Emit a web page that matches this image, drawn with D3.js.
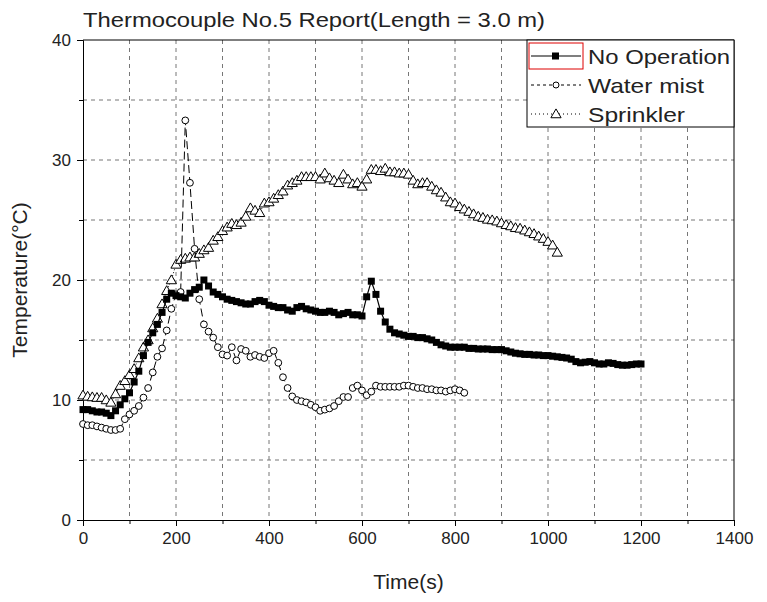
<!DOCTYPE html>
<html><head><meta charset="utf-8">
<script src="https://cdn.jsdelivr.net/npm/d3@7"></script>
<style>body{margin:0;background:#fff}svg{display:block}text{font-family:Arial,"Liberation Sans",sans-serif;fill:#222}</style>
</head><body><svg id="c" width="767" height="602"></svg>
<script>
const title = "Thermocouple No.5 Report(Length = 3.0 m)";
const xLabel = "Time(s)";
const yLabel = "Temperature(°C)";
const xTicks = [0,200,400,600,800,1000,1200,1400];
const yTicks = [0,10,20,30,40];
const seriesNames = ["No Operation","Water mist","Sprinkler"];

const noOpTime = d3.range(0,1201,10);
const noOpTemp = [9.2,9.2,9.1,9.0,9.0,8.9,8.7,9.1,9.6,10.1,10.6,11.5,12.4,13.7,14.8,15.6,16.3,17.3,18.4,18.9,
18.7,18.6,18.5,18.9,19.2,19.4,20.0,19.5,19.0,18.8,18.6,18.4,18.3,18.2,18.1,18.0,18.0,18.2,18.3,18.2,
17.9,17.8,17.7,17.7,17.5,17.4,17.7,17.8,17.6,17.5,17.4,17.3,17.3,17.4,17.3,17.1,17.2,17.3,17.1,17.1,
17.0,18.6,19.9,18.8,17.4,16.5,15.9,15.6,15.5,15.4,15.3,15.3,15.2,15.2,15.1,15.0,14.8,14.6,14.5,14.4,
14.4,14.4,14.4,14.3,14.3,14.25,14.25,14.25,14.2,14.2,14.2,14.1,14.0,13.9,13.85,13.8,13.8,13.75,13.75,13.7,
13.7,13.65,13.6,13.55,13.5,13.4,13.2,13.1,13.15,13.2,13.1,13.0,13.0,13.1,13.05,12.95,12.9,12.9,12.95,13.0,13.0];

const mistTime = d3.range(0,821,10);
const mistTemp = [8.0,7.9,7.9,7.8,7.7,7.6,7.5,7.5,7.6,8.4,8.8,9.1,9.5,10.2,11.0,12.3,13.6,14.3,15.8,17.6,
18.8,19.0,33.3,28.1,22.6,18.4,16.3,15.7,15.2,14.4,13.8,13.7,14.4,13.3,14.25,14.1,13.6,13.75,13.6,13.5,
13.9,14.1,13.1,11.9,11.0,10.3,10.0,9.9,9.8,9.6,9.4,9.1,9.2,9.3,9.5,9.9,10.25,10.25,11.0,11.2,
10.8,10.4,10.7,11.2,11.1,11.1,11.1,11.1,11.1,11.2,11.2,11.1,11.0,11.0,10.9,10.9,10.8,10.8,10.7,10.8,
10.9,10.8,10.6];

const sprTime = d3.range(0,1021,10);
const sprTemp = [10.4,10.3,10.25,10.2,10.2,10.0,9.8,10.5,11.2,11.6,12.1,12.6,13.5,14.4,15.0,16.0,16.8,18.0,19.1,20.0,
21.3,21.7,21.8,21.9,21.9,22.2,22.5,22.7,23.3,23.6,24.1,24.4,24.7,24.6,24.8,25.3,26.0,25.8,25.6,26.4,
26.5,26.8,27.1,27.4,27.9,28.1,28.3,28.6,28.6,28.6,28.6,28.4,28.9,28.5,28.3,28.1,28.8,28.4,28.0,28.1,
27.8,28.4,29.2,29.2,29.1,29.3,29.0,29.0,28.9,28.9,28.8,28.3,28.0,28.1,28.1,27.8,27.5,27.3,26.9,26.5,
26.4,26.1,25.9,25.7,25.5,25.3,25.2,25.05,25.0,24.9,24.75,24.6,24.5,24.35,24.3,24.15,24.0,23.85,23.65,23.45,
23.2,22.9,22.3];

const svg = d3.select("#c");
const L=83, R=734, T=40, B=520;
const x = d3.scaleLinear().domain([0,1400]).range([L,R]);
const y = d3.scaleLinear().domain([0,40]).range([B,T]);

// grid
const g = svg.append("g");
g.selectAll("line.gx").data(d3.range(100,1400,100)).join("line")
 .attr("x1",d=>x(d)).attr("x2",d=>x(d)).attr("y1",T).attr("y2",B)
 .attr("stroke","#777").attr("stroke-width",1).attr("stroke-dasharray","4,4");
g.selectAll("line.gy").data(d3.range(5,40,5)).join("line")
 .attr("y1",d=>y(d)).attr("y2",d=>y(d)).attr("x1",L).attr("x2",R)
 .attr("stroke","#777").attr("stroke-width",1).attr("stroke-dasharray","4,4");

// axes
const xAxis = d3.axisBottom(x).tickValues(xTicks).tickSize(6).tickPadding(6).tickFormat(d3.format("d"));
const xMinor = d3.axisBottom(x).tickValues(d3.range(100,1400,200)).tickSize(4).tickFormat("");
const yAxis = d3.axisLeft(y).tickValues(yTicks).tickSize(6).tickPadding(6);
const yMinor = d3.axisLeft(y).tickValues(d3.range(5,40,10)).tickSize(4).tickFormat("");
function style(sel){sel.select(".domain").attr("stroke","#000");sel.selectAll("line").attr("stroke","#000");
 sel.selectAll("text").attr("font-size",17).attr("fill","#222").style("font-family","Arial, 'Liberation Sans', sans-serif");}
svg.append("g").attr("transform",`translate(0,${B})`).call(xAxis).call(style);
svg.append("g").attr("transform",`translate(0,${B})`).call(xMinor).call(style).select(".domain").remove();
svg.append("g").attr("transform",`translate(${L},0)`).call(yAxis).call(style);
svg.append("g").attr("transform",`translate(${L},0)`).call(yMinor).call(style).select(".domain").remove();
// frame
svg.append("line").attr("x1",L).attr("x2",R).attr("y1",T).attr("y2",T).attr("stroke","#000");
svg.append("line").attr("x1",R).attr("x2",R).attr("y1",T).attr("y2",B).attr("stroke","#000");

// series
const line = d3.line().x(d=>x(d[0])).y(d=>y(d[1]));
const noOp = noOpTime.map((t,i)=>[t,noOpTemp[i]]);
const mist = mistTime.map((t,i)=>[t,mistTemp[i]]);
const spr = sprTime.map((t,i)=>[t,sprTemp[i]]);
const tri = d3.symbol().type(d3.symbolTriangle).size(45);

svg.append("path").datum(spr).attr("d",line).attr("fill","none").attr("stroke","#000").attr("stroke-width",1).attr("stroke-dasharray","1,2");
svg.append("g").selectAll("path").data(spr).join("path").attr("d",tri)
 .attr("transform",d=>`translate(${x(d[0])},${y(d[1])+0.8})`).attr("fill","#fff").attr("stroke","#000").attr("stroke-width",1);

svg.append("path").datum(mist).attr("d",line).attr("fill","none").attr("stroke","#000").attr("stroke-width",1).attr("stroke-dasharray","8,4");
svg.append("g").selectAll("circle").data(mist).join("circle")
 .attr("cx",d=>x(d[0])).attr("cy",d=>y(d[1])).attr("r",3.4).attr("fill","#fff").attr("stroke","#000").attr("stroke-width",1);

svg.append("path").datum(noOp).attr("d",line).attr("fill","none").attr("stroke","#000").attr("stroke-width",1.2);
svg.append("g").selectAll("rect").data(noOp).join("rect")
 .attr("x",d=>x(d[0])-3.5).attr("y",d=>y(d[1])-3.5).attr("width",7).attr("height",7).attr("fill","#000");

// legend
const lg = svg.append("g");
lg.append("rect").attr("x",527).attr("y",40).attr("width",207).attr("height",87).attr("fill","#fff").attr("stroke","#000");
lg.append("rect").attr("x",529).attr("y",43).attr("width",54).attr("height",26).attr("fill","none").attr("stroke","#d00").attr("stroke-width",1);
const ly = [56,85,114];
lg.append("line").attr("x1",531).attr("x2",581).attr("y1",ly[0]).attr("y2",ly[0]).attr("stroke","#000").attr("stroke-width",1.2);
lg.append("rect").attr("x",552).attr("y",ly[0]-3.5).attr("width",7).attr("height",7).attr("fill","#000");
lg.append("line").attr("x1",531).attr("x2",581).attr("y1",ly[1]).attr("y2",ly[1]).attr("stroke","#000").attr("stroke-dasharray","3,3");
lg.append("circle").attr("cx",556).attr("cy",ly[1]).attr("r",3).attr("fill","#fff").attr("stroke","#000");
lg.append("line").attr("x1",531).attr("x2",581).attr("y1",ly[2]).attr("y2",ly[2]).attr("stroke","#000").attr("stroke-dasharray","1,3");
lg.append("path").attr("d",tri).attr("transform",`translate(556,${ly[2]+0.8})`).attr("fill","#fff").attr("stroke","#000");
const lw = [142,116,97];
seriesNames.forEach((s,i)=>{
 lg.append("text").attr("x",588).attr("y",ly[i]+7.5).attr("font-size",21).attr("textLength",lw[i]).attr("lengthAdjust","spacingAndGlyphs").text(s);
});

// titles
svg.append("text").attr("x",83).attr("y",27).attr("font-size",21).attr("textLength",462).attr("lengthAdjust","spacingAndGlyphs").text(title);
svg.append("text").attr("x",(L+R)/2).attr("y",589).attr("text-anchor","middle").attr("font-size",21).text(xLabel);
svg.append("text").attr("transform","translate(27,280) rotate(-90)").attr("text-anchor","middle").attr("font-size",21).text(yLabel);
</script></body></html>
